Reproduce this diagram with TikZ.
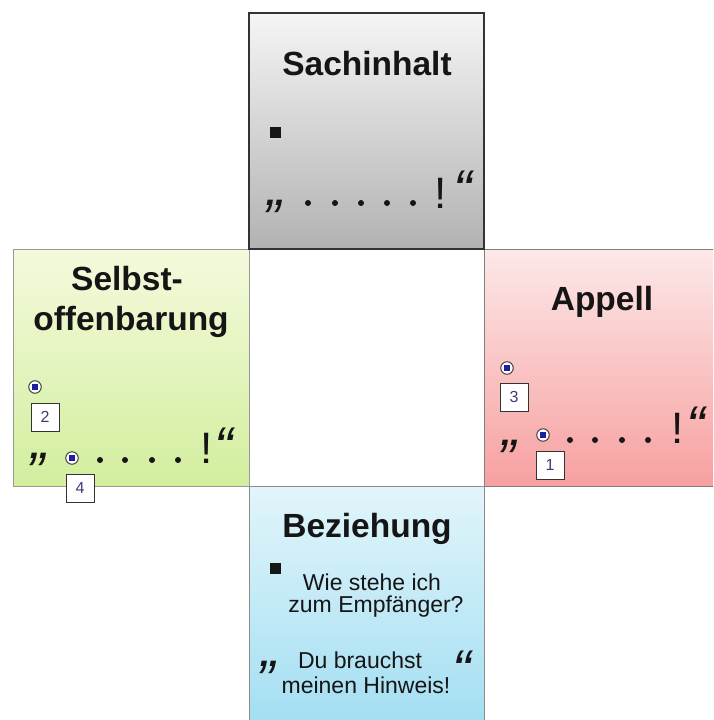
\documentclass[tikz,border=0pt]{standalone}
\usepackage{fontspec}
\setmainfont{Liberation Sans}
\definecolor{txt}{HTML}{151515}
\definecolor{numblue}{HTML}{3C3C78}
\definecolor{mkblue}{HTML}{1E1EA0}
\begin{document}
\begin{tikzpicture}[x=1pt,y=-1pt,
  panel/.style={draw, line width=1pt, inner sep=0pt, outer sep=0pt},
  title/.style={anchor=base, text=txt, font=\fontsize{33.5}{36}\selectfont\bfseries},
  body/.style={anchor=base, text=txt, font=\fontsize{23}{26}\selectfont},
  bulletsq/.style={fill=txt, inner sep=0pt, minimum size=11pt},
  dotmark/.style={circle, fill=txt, inner sep=0pt, minimum size=6pt},
  quot/.style={text=txt, inner sep=0pt, font=\fontsize{56}{56}\selectfont\itshape},
  excl/.style={anchor=base, text=txt, inner sep=0pt, font=\fontsize{44}{44}\selectfont},
  marker/.style={circle, draw=black!75, fill=white, line width=1pt, minimum size=12.5pt, inner sep=0pt,
    path picture={\fill[mkblue] ([xshift=-3pt,yshift=-3pt]path picture bounding box.center) rectangle ([xshift=3pt,yshift=3pt]path picture bounding box.center);}},
  numbox/.style={draw=black!80, fill=white, line width=0.9pt, minimum size=28pt, inner sep=0pt, text=numblue, font=\fontsize{16}{16}\selectfont}
]
\useasboundingbox (0,0) rectangle (713,720);
\clip (0,0) rectangle (713,720);
\fill[white] (0,0) rectangle (713,720);

% panels
\node[panel, draw=black!40, minimum width=236pt, minimum height=237pt, top color={rgb,255:red,244;green,250;blue,220}, bottom color={rgb,255:red,210;green,238;blue,158}] (selbst) at (131,367.5) {};
\node[panel, draw=black!50, minimum width=232pt, minimum height=237pt, top color={rgb,255:red,253;green,232;blue,232}, bottom color={rgb,255:red,247;green,160;blue,160}] (appell) at (600,367.5) {};
\node[panel, draw=black!45, minimum width=235pt, minimum height=240pt, top color={rgb,255:red,226;green,245;blue,251}, bottom color={rgb,255:red,162;green,222;blue,242}] (bez) at (366.5,606) {};
\node[panel, draw=black!80, line width=1.4pt, minimum width=235pt, minimum height=236pt, top color={rgb,255:red,245;green,245;blue,245}, bottom color={rgb,255:red,178;green,178;blue,178}] (sach) at (366.5,131) {};

% Sachinhalt
\node[title] (sachT) at (367,75) {Sachinhalt};
\node[bulletsq] (sachB) at (275.5,132.5) {};
\node[quot] (sachQ1) at (277,206) {„};
\node[dotmark] (sd1) at (308,203) {};
\node[dotmark] (sd2) at (335,203) {};
\node[dotmark] (sd3) at (361,203) {};
\node[dotmark] (sd4) at (387,203) {};
\node[dotmark] (sd5) at (413,203) {};
\node[excl] (sachE) at (441,208) {!};
\node[quot] (sachQ2) at (463,190) {“};

% Selbstoffenbarung
\node[title] (selT1) at (127,290) {Selbst-};
\node[title] (selT2) at (131,330) {offenbarung};
\node[marker] (m2) at (35,387) {};
\node[numbox] (n2) at (45,417) {2};
\node[quot] (selQ1) at (41,459) {„};
\node[dotmark] (ld1) at (100,460) {};
\node[dotmark] (ld2) at (125,460) {};
\node[dotmark] (ld3) at (152,460) {};
\node[dotmark] (ld4) at (178,460) {};
\node[excl] (selE) at (207,463) {!};
\node[quot] (selQ2) at (224,447) {“};
\node[marker] (m4) at (72,458) {};
\node[numbox] (n4) at (80,488) {4};

% Appell
\node[title] (appT) at (602,310) {Appell};
\node[marker] (m3) at (507,368) {};
\node[numbox] (n3) at (514,397) {3};
\node[quot] (appQ1) at (512,446) {„};
\node[dotmark] (rd1) at (570,440) {};
\node[dotmark] (rd2) at (595,440) {};
\node[dotmark] (rd3) at (622,440) {};
\node[dotmark] (rd4) at (648,440) {};
\node[excl] (appE) at (678,443) {!};
\node[quot] (appQ2) at (696,426) {“};
\node[marker] (m1) at (543,435) {};
\node[numbox] (n1) at (550,465) {1};

% Beziehung
\node[title] (bezT) at (367,537) {Beziehung};
\node[bulletsq] (bezB) at (275.5,568) {};
\node[body] (bezL1) at (372,590) {Wie stehe ich};
\node[body] (bezL2) at (376,612) {zum Empfänger?};
\node[quot] (bezQ1) at (271,667) {„};
\node[body] (bezL3) at (360,668) {Du brauchst};
\node[body] (bezL4) at (366,693) {meinen Hinweis!};
\node[quot] (bezQ2) at (462,670) {“};
\end{tikzpicture}
\end{document}
